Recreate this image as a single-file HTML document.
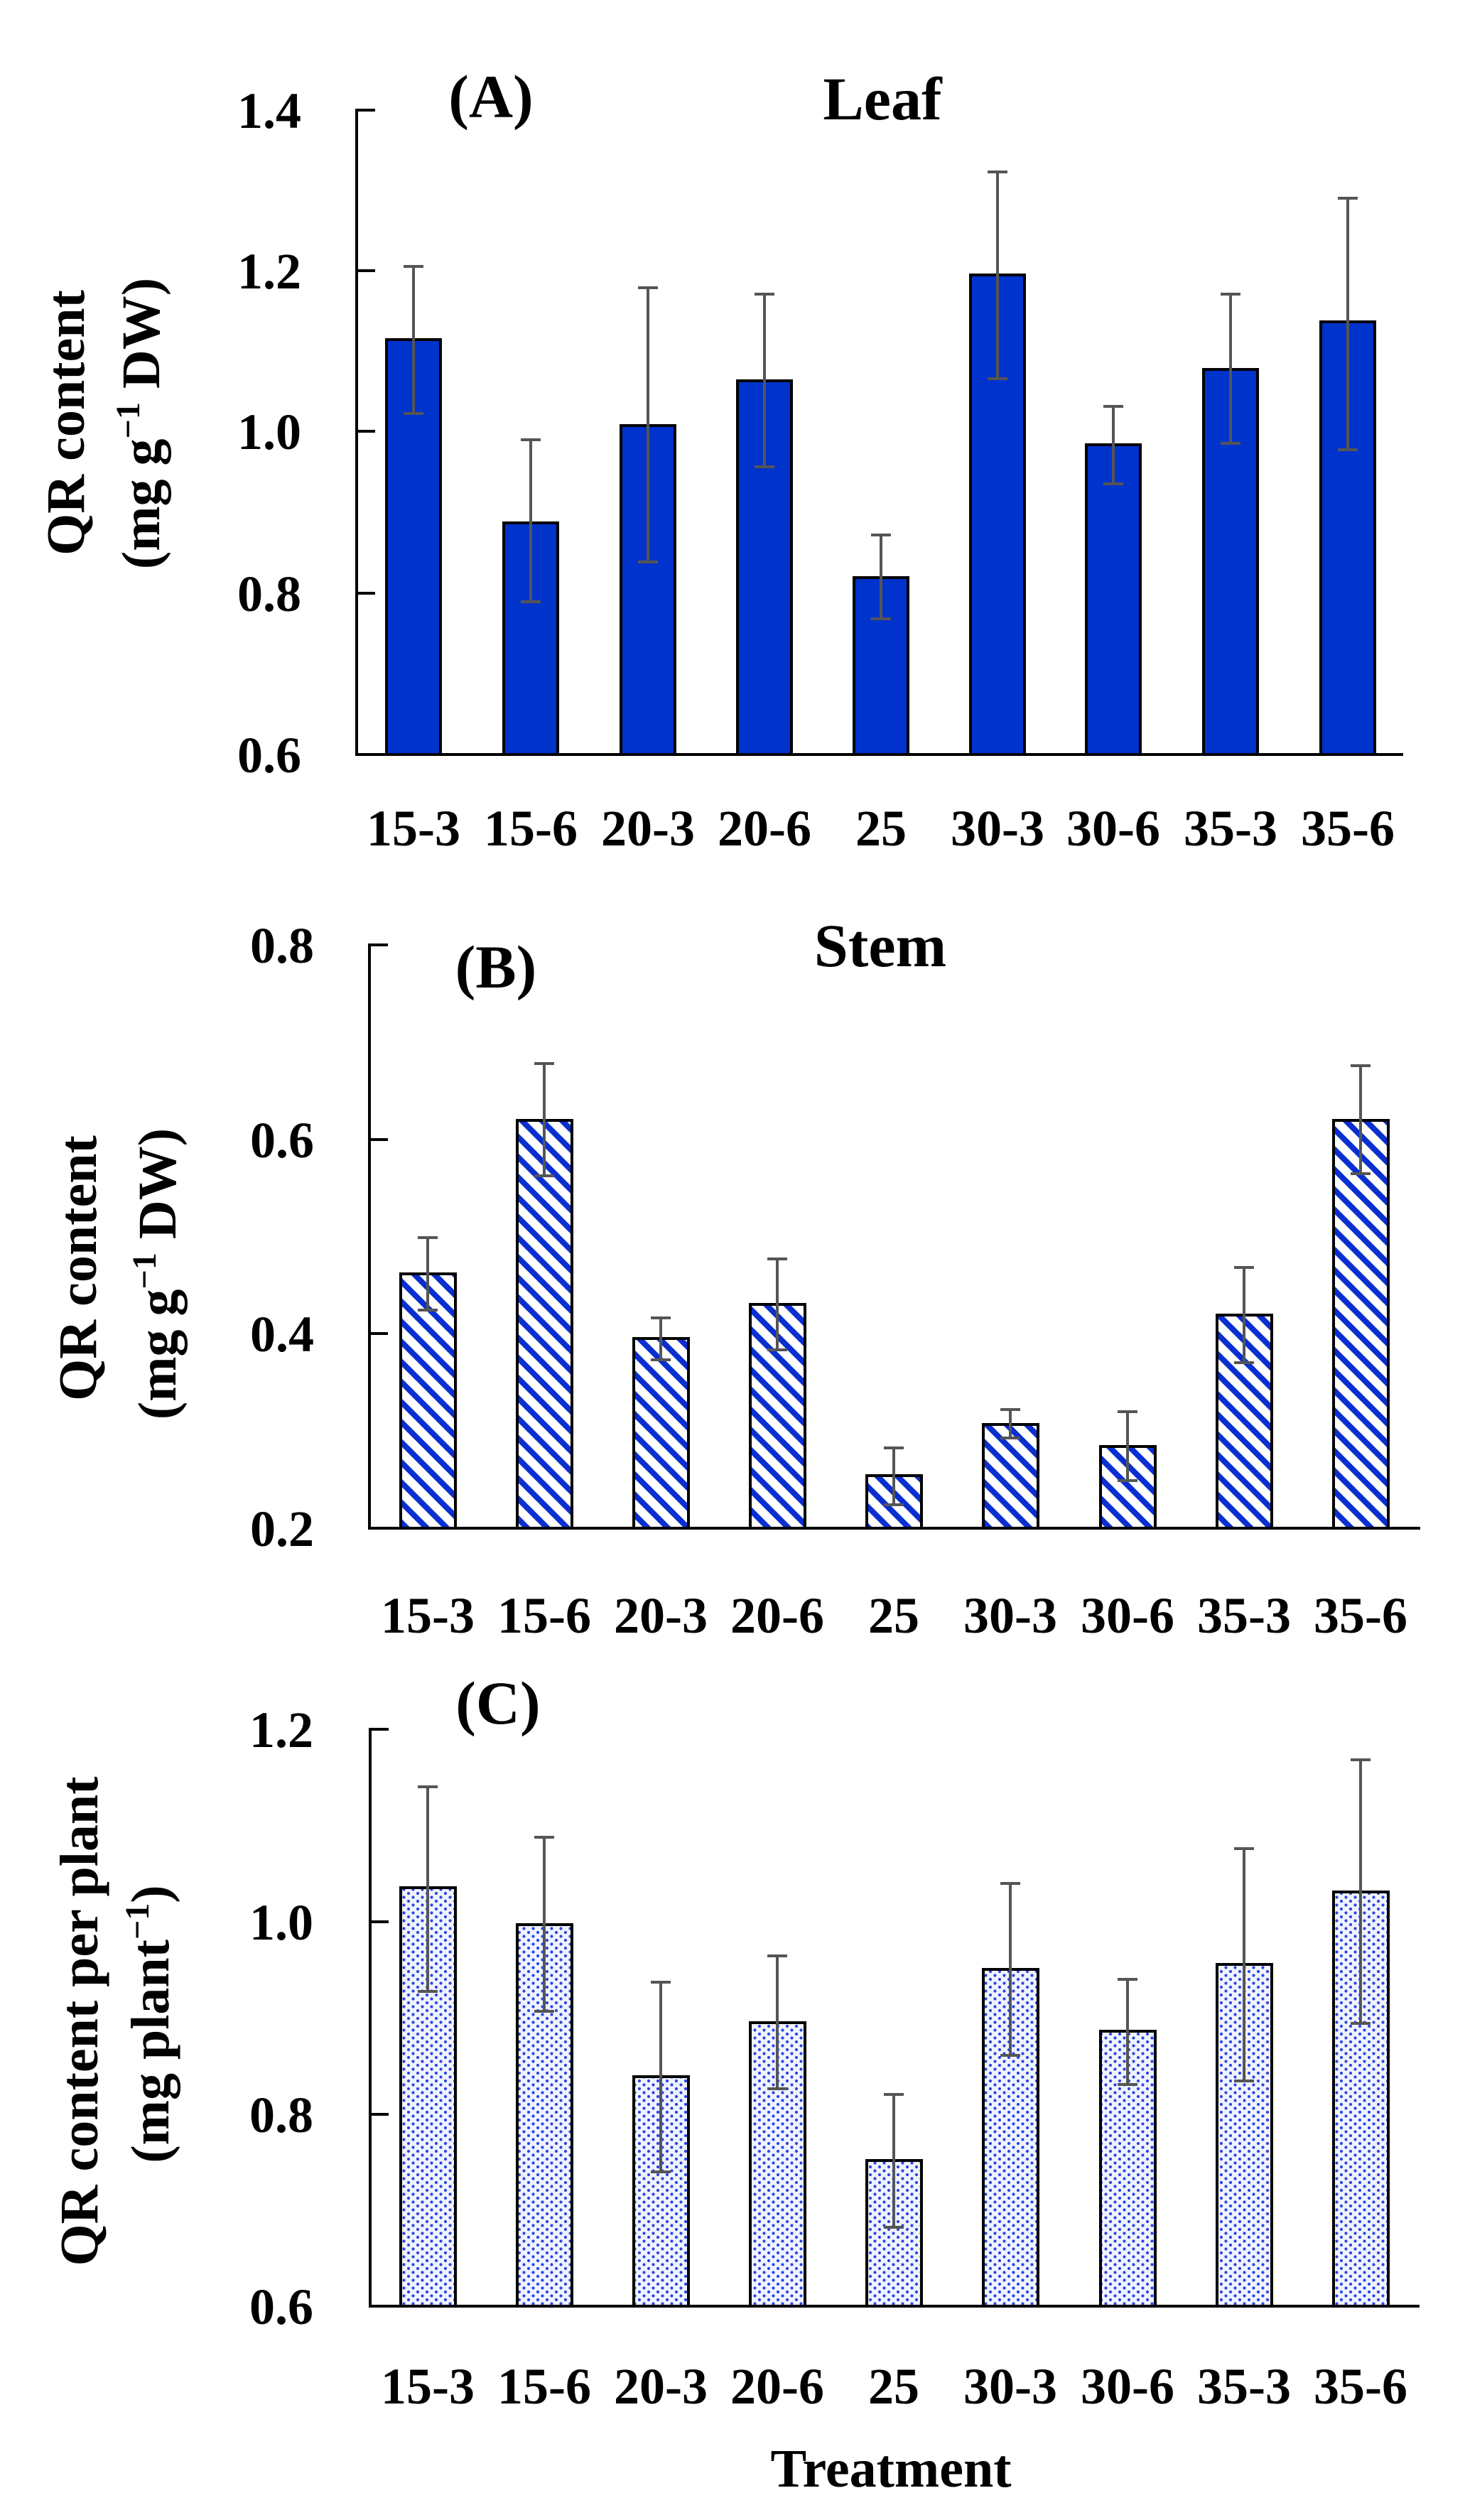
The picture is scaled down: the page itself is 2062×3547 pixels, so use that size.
<!DOCTYPE html>
<html><head><meta charset="utf-8"><style>html,body{margin:0;padding:0;background:#fff}svg{display:block}</style></head>
<body>
<svg width="2062" height="3547" viewBox="0 0 2062 3547" xmlns="http://www.w3.org/2000/svg" font-family="'Liberation Serif', serif" font-weight="bold">
<defs>
<pattern id="stripe" patternUnits="userSpaceOnUse" width="20" height="20" patternTransform="rotate(-45)">
<rect width="20" height="20" fill="#fff"/><rect x="0" y="0" width="8" height="20" fill="#0a2fd0"/>
</pattern>
<pattern id="dots" patternUnits="userSpaceOnUse" width="13" height="11">
<rect width="13" height="11" fill="#f0f3ff"/><circle cx="3" cy="3" r="2.1" fill="#2a45e0"/><circle cx="9.5" cy="8.5" r="2.1" fill="#2a45e0"/>
</pattern>
</defs>

<!-- Panel A -->
<g stroke="#000" stroke-width="4" fill="none">
<path d="M528,155 H502 V1062 H1975"/>
<path d="M502,381 H528 M502,607 H528 M502,835 H528"/>
</g>
<g font-size="72" text-anchor="end">
<text x="424" y="180">1.4</text><text x="424" y="406">1.2</text><text x="424" y="632">1.0</text><text x="424" y="860">0.8</text><text x="424" y="1087">0.6</text>
</g>
<g fill="#0033cc" stroke="#000" stroke-width="4">
<rect x="544" y="478" width="76" height="584"/>
<rect x="709" y="736" width="76" height="326"/>
<rect x="874" y="599" width="76" height="463"/>
<rect x="1038" y="536" width="76" height="526"/>
<rect x="1202" y="813" width="76" height="249"/>
<rect x="1366" y="387" width="76" height="675"/>
<rect x="1529" y="626" width="76" height="436"/>
<rect x="1694" y="520" width="76" height="542"/>
<rect x="1859" y="453" width="76" height="609"/>
</g>
<g stroke="#555" stroke-width="4">
<path d="M582,375V582M568,375H596M568,582H596"/>
<path d="M747,619V847M733,619H761M733,847H761"/>
<path d="M912,405V791M898,405H926M898,791H926"/>
<path d="M1076,414V657M1062,414H1090M1062,657H1090"/>
<path d="M1240,753V871M1226,753H1254M1226,871H1254"/>
<path d="M1404,242V533M1390,242H1418M1390,533H1418"/>
<path d="M1567,572V681M1553,572H1581M1553,681H1581"/>
<path d="M1732,414V624M1718,414H1746M1718,624H1746"/>
<path d="M1897,279V633M1883,279H1911M1883,633H1911"/>
</g>
<g font-size="72" text-anchor="middle">
<text x="582" y="1190">15-3</text><text x="747" y="1190">15-6</text><text x="912" y="1190">20-3</text><text x="1076" y="1190">20-6</text><text x="1240" y="1190">25</text><text x="1404" y="1190">30-3</text><text x="1567" y="1190">30-6</text><text x="1732" y="1190">35-3</text><text x="1897" y="1190">35-6</text>
</g>
<text x="691" y="165" font-size="86" text-anchor="middle">(A)</text>
<text x="1242" y="168" font-size="86" text-anchor="middle">Leaf</text>
<g font-size="76" text-anchor="middle">
<text transform="translate(118,595) rotate(-90)">QR content</text>
<text transform="translate(224,596) rotate(-90)">(mg g<tspan font-size="48" dy="-28">−1</tspan><tspan dy="28"> DW)</tspan></text>
</g>

<!-- Panel B -->
<g stroke="#000" stroke-width="4" fill="none">
<path d="M546,1330 H520 V2151 H1999"/>
<path d="M520,1604 H546 M520,1877 H546"/>
</g>
<g font-size="72" text-anchor="end">
<text x="442" y="1355">0.8</text><text x="442" y="1629">0.6</text><text x="442" y="1902">0.4</text><text x="442" y="2176">0.2</text>
</g>
<g fill="url(#stripe)" stroke="#000" stroke-width="4">
<rect x="564" y="1793" width="77" height="358"/>
<rect x="728" y="1577" width="77" height="574"/>
<rect x="892" y="1884" width="77" height="267"/>
<rect x="1056" y="1836" width="77" height="315"/>
<rect x="1220" y="2077" width="77" height="74"/>
<rect x="1384" y="2005" width="77" height="146"/>
<rect x="1549" y="2036" width="77" height="115"/>
<rect x="1713" y="1851" width="77" height="300"/>
<rect x="1877" y="1577" width="77" height="574"/>
</g>
<g stroke="#555" stroke-width="4">
<path d="M602,1742V1844M588,1742H616M588,1844H616"/>
<path d="M766,1497V1655M752,1497H780M752,1655H780"/>
<path d="M930,1855V1914M916,1855H944M916,1914H944"/>
<path d="M1094,1772V1900M1080,1772H1108M1080,1900H1108"/>
<path d="M1258,2038V2118M1244,2038H1272M1244,2118H1272"/>
<path d="M1422,1984V2024M1408,1984H1436M1408,2024H1436"/>
<path d="M1587,1987V2084M1573,1987H1601M1573,2084H1601"/>
<path d="M1751,1784V1918M1737,1784H1765M1737,1918H1765"/>
<path d="M1915,1500V1652M1901,1500H1929M1901,1652H1929"/>
</g>
<g font-size="72" text-anchor="middle">
<text x="602" y="2298">15-3</text><text x="766" y="2298">15-6</text><text x="930" y="2298">20-3</text><text x="1094" y="2298">20-6</text><text x="1258" y="2298">25</text><text x="1422" y="2298">30-3</text><text x="1587" y="2298">30-6</text><text x="1751" y="2298">35-3</text><text x="1915" y="2298">35-6</text>
</g>
<text x="698" y="1390" font-size="86" text-anchor="middle">(B)</text>
<text x="1239" y="1360" font-size="86" text-anchor="middle">Stem</text>
<g font-size="76" text-anchor="middle">
<text transform="translate(135,1785) rotate(-90)">QR content</text>
<text transform="translate(247,1793) rotate(-90)">(mg g<tspan font-size="48" dy="-28">−1</tspan><tspan dy="28"> DW)</tspan></text>
</g>

<!-- Panel C -->
<g stroke="#000" stroke-width="4" fill="none">
<path d="M547,2434 H521 V3246 H1998"/>
<path d="M521,2705 H547 M521,2976 H547"/>
</g>
<g font-size="72" text-anchor="end">
<text x="441" y="2459">1.2</text><text x="441" y="2730">1.0</text><text x="441" y="3001">0.8</text><text x="441" y="3271">0.6</text>
</g>
<g fill="url(#dots)" stroke="#000" stroke-width="4">
<rect x="564" y="2657" width="77" height="589"/>
<rect x="728" y="2709" width="77" height="537"/>
<rect x="892" y="2923" width="77" height="323"/>
<rect x="1056" y="2847" width="77" height="399"/>
<rect x="1220" y="3041" width="77" height="205"/>
<rect x="1384" y="2772" width="77" height="474"/>
<rect x="1549" y="2859" width="77" height="387"/>
<rect x="1713" y="2765" width="77" height="481"/>
<rect x="1877" y="2663" width="77" height="583"/>
</g>
<g stroke="#555" stroke-width="4">
<path d="M602,2515V2803M588,2515H616M588,2803H616"/>
<path d="M766,2586V2831M752,2586H780M752,2831H780"/>
<path d="M930,2790V3057M916,2790H944M916,3057H944"/>
<path d="M1094,2753V2940M1080,2753H1108M1080,2940H1108"/>
<path d="M1258,2948V3135M1244,2948H1272M1244,3135H1272"/>
<path d="M1422,2651V2893M1408,2651H1436M1408,2893H1436"/>
<path d="M1587,2786V2934M1573,2786H1601M1573,2934H1601"/>
<path d="M1751,2602V2929M1737,2602H1765M1737,2929H1765"/>
<path d="M1915,2477V2848M1901,2477H1929M1901,2848H1929"/>
</g>
<g font-size="72" text-anchor="middle">
<text x="602" y="3383">15-3</text><text x="766" y="3383">15-6</text><text x="930" y="3383">20-3</text><text x="1094" y="3383">20-6</text><text x="1258" y="3383">25</text><text x="1422" y="3383">30-3</text><text x="1587" y="3383">30-6</text><text x="1751" y="3383">35-3</text><text x="1915" y="3383">35-6</text>
</g>
<text x="701" y="2426" font-size="86" text-anchor="middle">(C)</text>
<text x="1254" y="3500" font-size="76" text-anchor="middle">Treatment</text>
<g font-size="76" text-anchor="middle">
<text transform="translate(137,2845) rotate(-90)">QR content per plant</text>
<text transform="translate(237,2849) rotate(-90)">(mg plant<tspan font-size="48" dy="-28">−1</tspan><tspan dy="28">)</tspan></text>
</g>
</svg>
</body></html>
